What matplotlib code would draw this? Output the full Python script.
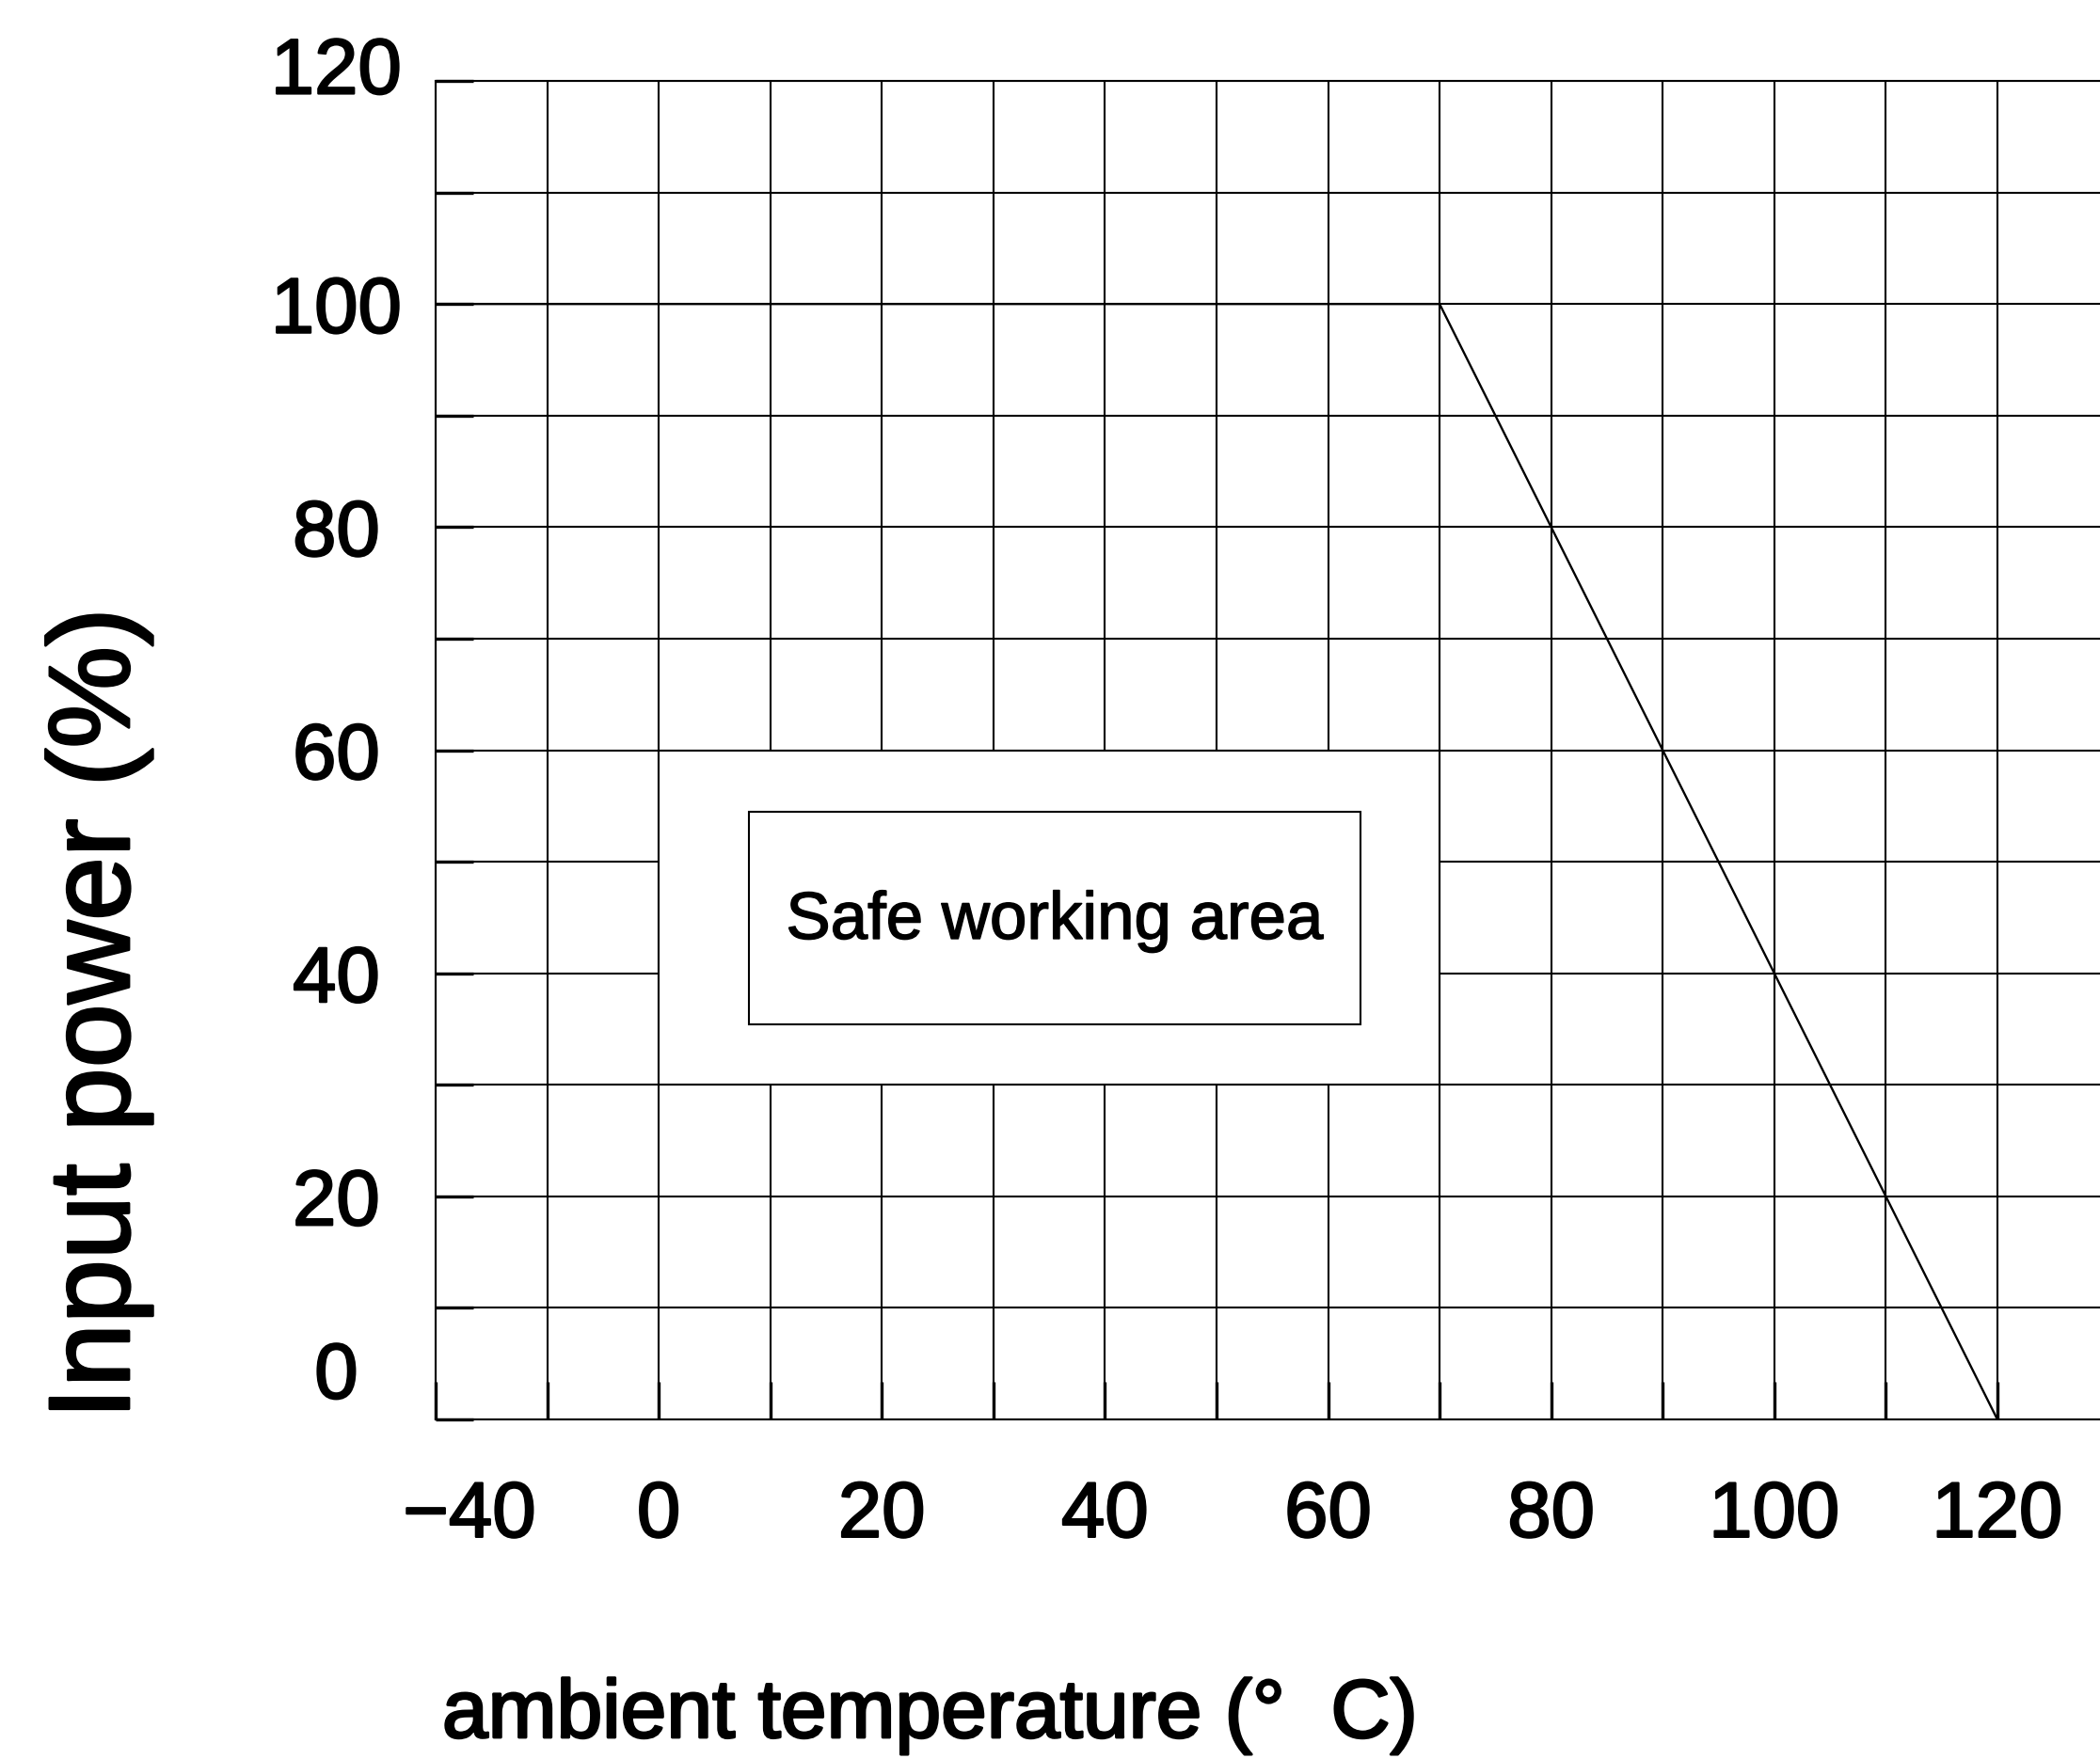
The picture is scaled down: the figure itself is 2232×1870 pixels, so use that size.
import matplotlib
matplotlib.use("Agg")
import matplotlib.pyplot as plt
import matplotlib.font_manager as fm
import matplotlib.patheffects as pe
from matplotlib.patches import Rectangle
from matplotlib.transforms import ScaledTranslation

# derating curve: full power up to 70 C, zero at 120 C
TEMP = [-20, 70, 120]
POWER = [100, 100, 0]

X_TICKS = list(range(-20, 130, 10))
X_LABELS = ["\u221240", "", "0", "", "20", "", "40", "", "60", "", "80", "", "100", "", "120"]
Y_TICKS = list(range(0, 130, 10))
Y_LABELS = ["0", "", "20", "", "40", "", "60", "", "80", "", "100", "", "120"]

SAFE_BAND = (0, 70, 30, 60)          # region with grid blanked
SAFE_BOX = (8.1, 62.9, 35.4, 54.5)   # framed label box
SAFE_TEXT = "Safe working area"

names = {f.name for f in fm.fontManager.ttflist}
narrow = "Liberation Sans Narrow" if "Liberation Sans Narrow" in names else "Liberation Sans"
plt.rcParams["font.family"] = ["Liberation Sans", "DejaVu Sans"]

# the original lettering is a bit heavier than plain Liberation Sans
heavy = [pe.withStroke(linewidth=2.0, foreground="black")]
heavy_tick = [pe.withStroke(linewidth=1.6, foreground="black")]
heavy_small = [pe.withStroke(linewidth=1.1, foreground="black")]

fig = plt.figure(figsize=(22.32, 18.70), dpi=100)
ax = fig.add_axes([463 / 2232, 361 / 1870, 1 - 463 / 2232, 1423 / 1870])
ax.set_xlim(-20, 129.2)
ax.set_ylim(0, 120)

ax.set_xticks(X_TICKS, X_LABELS)
ax.set_yticks(Y_TICKS, Y_LABELS)
ax.grid(True, color="black", linewidth=1.5)
ax.set_axisbelow(True)
ax.tick_params(direction="in", length=29, width=2.4, color="black")
ax.tick_params(axis="x", pad=46)
ax.tick_params(axis="y", pad=76)
for lab in ax.get_xticklabels() + ax.get_yticklabels():
    lab.set_fontfamily([narrow, "DejaVu Sans"])
    lab.set_fontsize(66 if narrow != "Liberation Sans" else 60)
    lab.set_path_effects(heavy_tick)
for lab in ax.get_yticklabels():
    lab.set_horizontalalignment("center")

for s in ("left", "bottom", "top"):
    ax.spines[s].set_linewidth(1.5)
ax.spines["right"].set_visible(False)

def shift(lab, dx, dy):
    lab.set_transform(lab.get_transform() + ScaledTranslation(dx / 100, dy / 100, fig.dpi_scale_trans))

shift(ax.get_xticklabels()[0], 36, 0)
shift(ax.get_yticklabels()[0], 0, 53)
shift(ax.get_yticklabels()[-1], 0, 17)

x0, x1, y0, y1 = SAFE_BAND
ax.add_patch(Rectangle((x0, y0), x1 - x0, y1 - y0, facecolor="white",
                       edgecolor="black", linewidth=1.5, zorder=1))
bx0, bx1, by0, by1 = SAFE_BOX
ax.add_patch(Rectangle((bx0, by0), bx1 - bx0, by1 - by0, facecolor="white",
                       edgecolor="black", linewidth=1.5, zorder=2))
ax.text((bx0 + bx1) / 2, 43.1, SAFE_TEXT, ha="center", va="baseline",
        fontsize=51, zorder=3, path_effects=heavy_small)

ax.plot(TEMP, POWER, color="black", linewidth=1.7, zorder=4)

fig.text(137 / 2232, 1 - 1509 / 1870, "Input power (%)", rotation=90,
         rotation_mode="anchor", ha="left", va="baseline", fontsize=88,
         path_effects=heavy)
fig.text(470 / 2232, 1 - 1847 / 1870, "ambient temperature (\u00b0  C)",
         ha="left", va="baseline", fontsize=63, path_effects=heavy)

plt.savefig("out.png", dpi=100)
